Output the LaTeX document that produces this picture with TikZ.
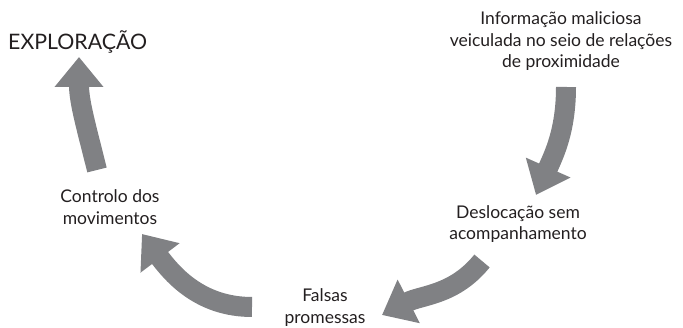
\documentclass[tikz,border=0pt]{standalone}
\usepackage{fontspec}
\setmainfont{Lato}
\usepackage{xcolor}
\usetikzlibrary{arrows.meta}
\definecolor{arrowgray}{RGB}{128,129,132}
\definecolor{textblack}{RGB}{35,31,32}

\begin{document}
\begin{tikzpicture}[x=1pt, y=1pt,
    label/.style={align=center, text=textblack, font=\fontsize{17.5}{21.5}\selectfont, inner sep=0pt},
    cyclearrow/.style={draw=arrowgray, line width=20pt, -{Triangle[length=30pt, width=47pt]}}]
    \useasboundingbox (0,0) rectangle (683,328);
    % labels
    \node[label, anchor=west, font=\fontsize{21.3}{24}\selectfont] (expl) at (8,286) {EXPLORAÇÃO};
    \node[label] (info) at (561,286.5) {Informação maliciosa\\veiculada no seio de relações\\de proximidade};
    \node[label] (desl) at (518,104) {Deslocação sem\\acompanhamento};
    \node[label] (falsas) at (325,20.5) {Falsas\\promessas};
    \node[label] (ctrl) at (110,121) {Controlo dos\\movimentos};
    % arrow ends
    \coordinate (a1) at (566,241);
    \coordinate (b1) at (536,133);
    \coordinate (a2) at (482,67);
    \coordinate (b2) at (382,13);
    \coordinate (a3) at (252,21);
    \coordinate (b3) at (142,94);
    \coordinate (a4) at (97,158);
    \coordinate (b4) at (79,271);
    \draw[cyclearrow] (a1) to[out=270, in=66] (b1);
    \draw[cyclearrow] (a2) to[out=231, in=27] (b2);
    \draw[cyclearrow] (a3) to[out=180, in=-53] (b3);
    \draw[cyclearrow] (a4) to[out=104, in=270] (b4);
\end{tikzpicture}
\end{document}
